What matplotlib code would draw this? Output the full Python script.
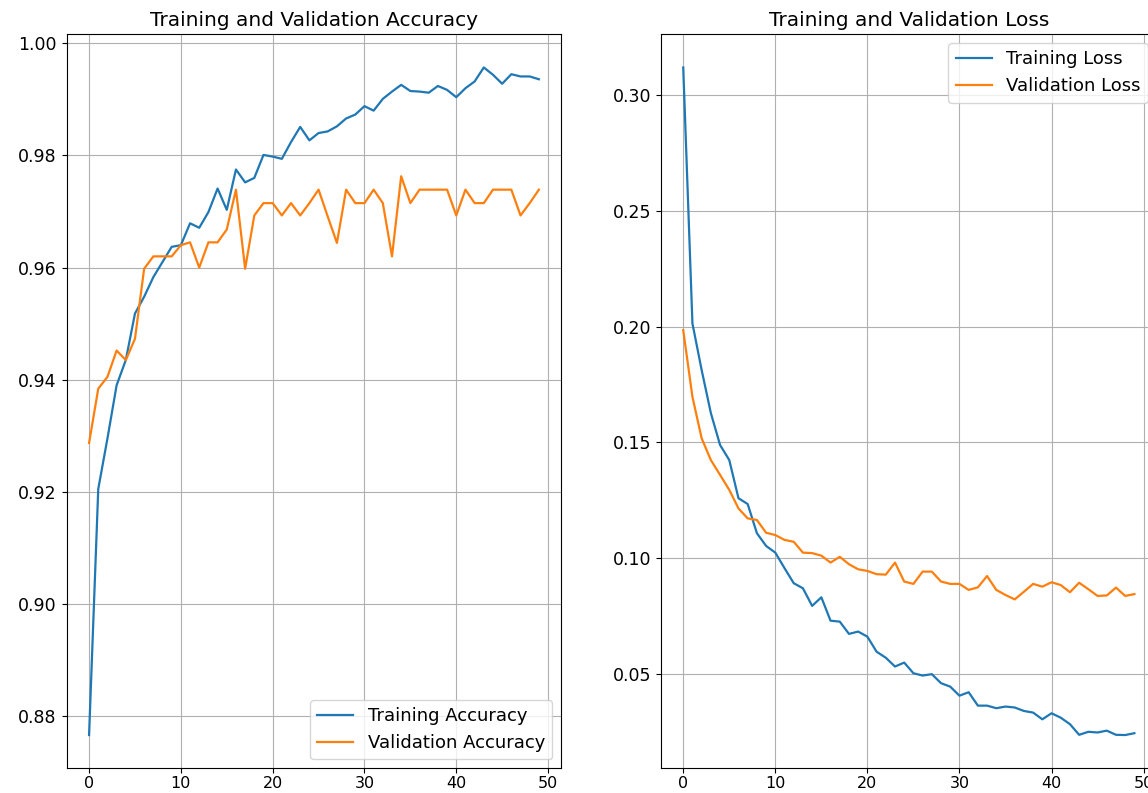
import numpy as np
import matplotlib
matplotlib.use("Agg")
import matplotlib.pyplot as plt

## accuracy / loss history (50 epochs)
train_acc = [0.8766, 0.9205, 0.9295, 0.9390, 0.9435, 0.9518, 0.9548, 0.9583, 0.9610, 0.9637,
             0.9640, 0.9679, 0.9671, 0.9699, 0.9741, 0.9703, 0.9775, 0.9752, 0.9760, 0.9801,
             0.9798, 0.9794, 0.9824, 0.9851, 0.9827, 0.9840, 0.9843, 0.9852, 0.9866, 0.9873,
             0.9888, 0.9880, 0.9901, 0.9914, 0.9926, 0.9915, 0.9914, 0.9912, 0.9924, 0.9917,
             0.9904, 0.9920, 0.9932, 0.9957, 0.9944, 0.9928, 0.9945, 0.9941, 0.9941, 0.9936]
val_acc = [0.9287, 0.9384, 0.9405, 0.9452, 0.9435, 0.9473, 0.9598, 0.9620, 0.9620, 0.9620,
           0.9640, 0.9645, 0.9600, 0.9645, 0.9645, 0.9668, 0.9739, 0.9598, 0.9693, 0.9715,
           0.9715, 0.9693, 0.9715, 0.9693, 0.9715, 0.9739, 0.9691, 0.9644, 0.9739, 0.9715,
           0.9715, 0.9739, 0.9715, 0.9620, 0.9763, 0.9715, 0.9739, 0.9739, 0.9739, 0.9739,
           0.9693, 0.9739, 0.9715, 0.9715, 0.9739, 0.9739, 0.9739, 0.9693, 0.9715, 0.9739]
train_loss = [0.3120, 0.2014, 0.1813, 0.1627, 0.1489, 0.1424, 0.1259, 0.1234, 0.1108, 0.1053,
              0.1024, 0.0957, 0.0892, 0.0870, 0.0794, 0.0831, 0.0730, 0.0726, 0.0673, 0.0683,
              0.0661, 0.0596, 0.0570, 0.0532, 0.0549, 0.0503, 0.0493, 0.0499, 0.0460, 0.0445,
              0.0406, 0.0421, 0.0363, 0.0363, 0.0352, 0.0359, 0.0355, 0.0340, 0.0333, 0.0304,
              0.0330, 0.0311, 0.0283, 0.0237, 0.0250, 0.0247, 0.0255, 0.0237, 0.0236, 0.0244]
val_loss = [0.1985, 0.1697, 0.1518, 0.1424, 0.1360, 0.1295, 0.1215, 0.1172, 0.1165, 0.1110,
            0.1100, 0.1079, 0.1071, 0.1024, 0.1022, 0.1011, 0.0981, 0.1006, 0.0974, 0.0952,
            0.0945, 0.0931, 0.0929, 0.0981, 0.0899, 0.0889, 0.0942, 0.0942, 0.0899, 0.0889,
            0.0889, 0.0863, 0.0874, 0.0923, 0.0863, 0.0841, 0.0822, 0.0855, 0.0889, 0.0877,
            0.0896, 0.0884, 0.0853, 0.0894, 0.0866, 0.0837, 0.0839, 0.0873, 0.0837, 0.0845]

epochs_range = np.arange(len(train_acc))

fig = plt.figure(figsize=(11.48, 7.93), dpi=100)
## the right panel runs a bit past the edge of the picture, like the reference
ax1 = fig.add_axes([0.058, 0.031, 0.431, 0.926])
ax2 = fig.add_axes([0.5755, 0.031, 0.4323, 0.926])

ax1.plot(epochs_range, train_acc, label='Training Accuracy', lw=1.6)
ax1.plot(epochs_range, val_acc, label='Validation Accuracy', lw=1.6)
ax1.legend(loc='lower right', fontsize=13)
ax1.set_title('Training and Validation Accuracy', fontsize=14.5)
ax1.grid()

ax2.plot(epochs_range, train_loss, label='Training Loss', lw=1.6)
ax2.plot(epochs_range, val_loss, label='Validation Loss', lw=1.6)
ax2.legend(loc='upper right', fontsize=13)
ax2.set_title('Training and Validation Loss', fontsize=14.5)
ax2.grid()

for ax in (ax1, ax2):
    ax.tick_params(axis='y', labelsize=12.5)
    ax.tick_params(axis='x', labelsize=11.5, pad=2)

fig.savefig('out.png', dpi=100)
